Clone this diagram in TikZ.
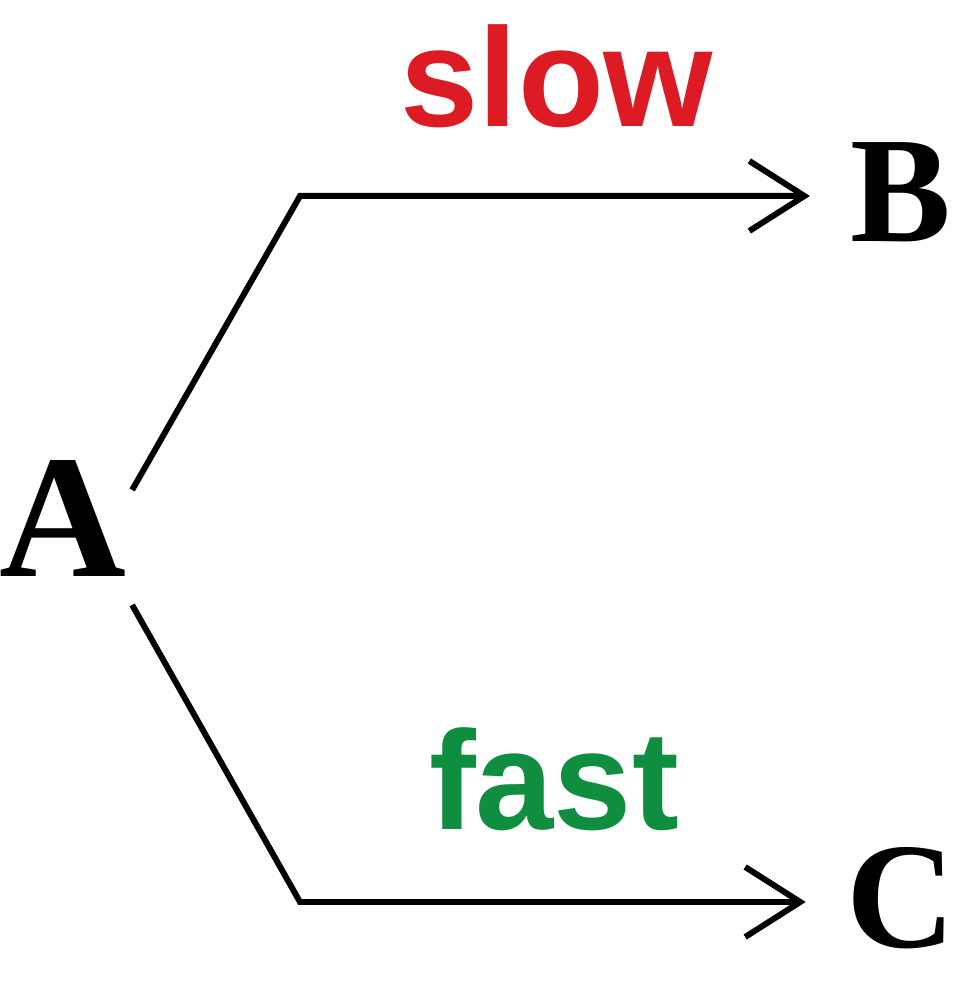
\documentclass[tikz,border=0pt]{standalone}
\usepackage{fontspec}
\setmainfont{Liberation Serif}
\setsansfont{Liberation Sans}
\usetikzlibrary{arrows.meta, positioning}
\definecolor{slowred}{RGB}{221,27,36}
\definecolor{fastgreen}{RGB}{16,142,64}

\begin{document}
\begin{tikzpicture}[
	letter/.style={inner sep=0pt, anchor=base, font=\fontsize{43}{43}\selectfont\bfseries},
	speed/.style={inner sep=0pt, anchor=base, font=\sffamily\fontsize{40}{40}\selectfont\bfseries},
	flow/.style={line width=1.7pt, -{Straight Barb[length=5.5mm, width=7mm]}, shorten >=4mm}
]
	\useasboundingbox (0,0) rectangle (9.66,10);
	\node[letter, font=\fontsize{50}{50}\selectfont\bfseries] (A) at (0.63,4.23) {A};
	\node[letter] (B) at (9.01,7.58) {B};
	\node[letter] (C) at (9.01,0.52) {C};
	\node[speed, text=slowred] (slow) at (5.57,8.73) {slow};
	\node[speed, text=fastgreen] (fast) at (5.54,1.70) {fast};
	\coordinate (kB) at (3.00,8.04);
	\coordinate (kC) at (3.00,0.98);
	\draw[flow] ([shift={(0.05,0.29)}]A.east) -- (kB) -- (kB -| B.west);
	\draw[flow] ([shift={(0.05,-0.86)}]A.east) -- (kC) -- (kC -| C.west);
\end{tikzpicture}
\end{document}
